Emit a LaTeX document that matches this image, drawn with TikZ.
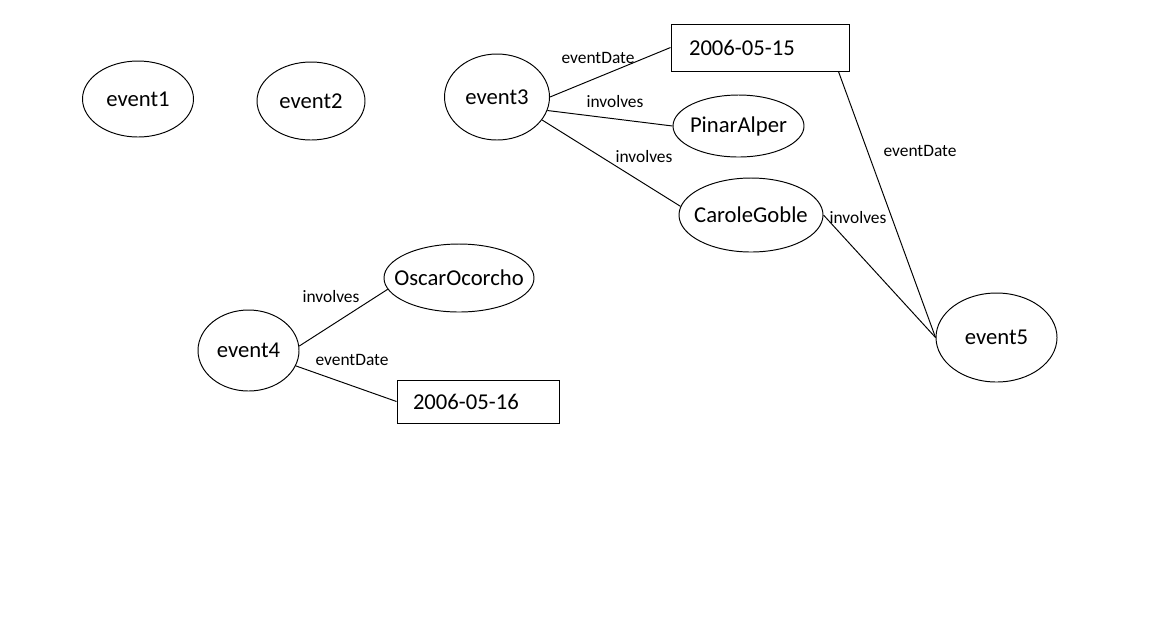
\documentclass[tikz,border=0pt]{standalone}
\usepackage{fontspec}
\setmainfont{Carlito}
\usepackage{tikz}
\usetikzlibrary{shapes.geometric}

\begin{document}
\begin{tikzpicture}[
    res/.style={ellipse, draw, line width=0.55pt, inner xsep=-0.3cm, inner ysep=0pt, font=\fontsize{12.9}{15}\selectfont},
    lit/.style={rectangle, draw, line width=0.55pt, align=left, inner ysep=0pt, font=\fontsize{12.9}{15}\selectfont},
    prop/.style={inner sep=0pt, font=\fontsize{9.9}{12}\selectfont},
    link/.style={draw, line width=0.55pt}
  ]

    \useasboundingbox (0,0) rectangle (23.1,-12.6);

    \node[res, minimum width=2.22cm, minimum height=1.52cm] at ( 2.76, -1.98) (ev1) {event1};
    \node[res, minimum width=2.16cm, minimum height=1.56cm] at ( 6.22, -2.02) (ev2) {event2};
    \node[res, minimum width=2.10cm, minimum height=1.72cm] at ( 9.94, -1.94) (ev3) {event3};
    \node[res, minimum width=2.02cm, minimum height=1.62cm] at ( 4.97, -7.01) (ev4) {event4};
    \node[res, minimum width=2.42cm, minimum height=1.78cm] at (19.93, -6.75) (ev5) {event5};

    \node[res, minimum width=2.62cm, minimum height=1.24cm] at (14.77, -2.52) (pinar)  {PinarAlper};
    \node[res, minimum width=2.88cm, minimum height=1.48cm] at (15.02, -4.30) (carole) {CaroleGoble};
    \node[res, minimum width=3.00cm, minimum height=1.36cm] at ( 9.18, -5.56) (oscar)  {OscarOcorcho};

    \node[lit, text width=2.84cm, inner xsep=0.36cm, minimum height=0.94cm] at (15.20, -0.95) (date1) {2006-05-15};
    \node[lit, text width=2.60cm, inner xsep=0.32cm, minimum height=0.86cm] at ( 9.56, -8.03) (date2) {2006-05-16};

    \node[prop] at (11.96, -1.16) (p31) {eventDate};
    \node[prop] at (12.30, -2.04) (p32) {involves};
    \node[prop] at (12.88, -3.14) (p33) {involves};
    \node[prop] at (18.40, -3.02) (p51) {eventDate};
    \node[prop] at (17.16, -4.36) (p52) {involves};
    \node[prop] at ( 6.62, -5.94) (p41) {involves};
    \node[prop] at ( 7.04, -7.20) (p42) {eventDate};

    \path[link] (ev3.east) edge (date1.west);
    \path[link] (ev3.-15) edge (pinar.west);
    \path[link] (ev3.-27) edge (carole.173);
    \path[link] (date1.-17) edge (ev5.west);
    \path[link] (carole.east) edge (ev5.west);
    \path[link] (ev4.5) edge (oscar.189);
    \path[link] (ev4.-18) edge (date2.west);

  \end{tikzpicture}
\end{document}
